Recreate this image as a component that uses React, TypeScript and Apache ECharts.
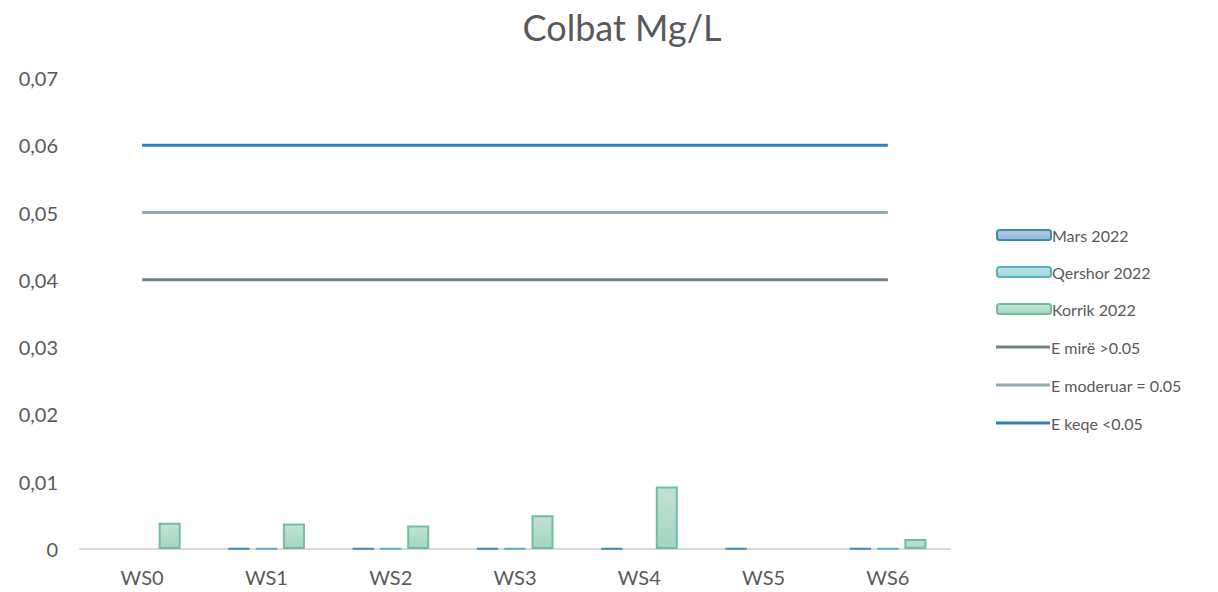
import React, { useEffect, useRef } from "react";
import * as echarts from "echarts";

const categories = ["WS0", "WS1", "WS2", "WS3", "WS4", "WS5", "WS6"];
const mars2022 = [null, 0.0001, 0.0001, 0.0001, 0.0001, 0.0001, 0.0001];
const qershor2022 = [null, 0.0001, 0.0001, 0.0001, null, null, 0.0001];
const korrik2022 = [0.0039, 0.0038, 0.0035, 0.005, 0.0093, null, 0.0015];
const eMire = [0.04, 0.04, 0.04, 0.04, 0.04, 0.04, 0.04];
const eModeruar = [0.05, 0.05, 0.05, 0.05, 0.05, 0.05, 0.05];
const eKeqe = [0.06, 0.06, 0.06, 0.06, 0.06, 0.06, 0.06];

const FONT = "Lato, 'Open Sans', sans-serif";
const TXT = "#595959";

function grad(top: string, bottom: string) {
  return new echarts.graphic.LinearGradient(0, 0, 0, 1, [
    { offset: 0, color: top },
    { offset: 1, color: bottom },
  ]);
}

export default function App() {
  const ref = useRef<HTMLDivElement>(null);
  useEffect(() => {
    if (!ref.current) return;
    const chart = echarts.init(ref.current, undefined, { renderer: "svg" });
    const barCommon = { type: "bar", barWidth: 22, barGap: "25%" };
    const legendText = { fontFamily: FONT, fontSize: 16, color: TXT, padding: [0, 0, 0, -4] };
    chart.setOption({
      animation: false,
      textStyle: { fontFamily: FONT },
      title: {
        text: "Colbat Mg/L",
        left: 617,
        textAlign: "center",
        top: 4,
        textStyle: { fontFamily: FONT, fontSize: 36, fontWeight: "normal", color: TXT },
      },
      legend: [
        {
          orient: "vertical",
          left: 991,
          top: 222,
          itemWidth: 54,
          itemHeight: 10,
          itemGap: 21,
          textStyle: legendText,
          data: ["Mars 2022", "Qershor 2022", "Korrik 2022"],
        },
        {
          orient: "vertical",
          left: 991,
          top: 334,
          itemWidth: 54,
          itemHeight: 3,
          itemGap: 22,
          icon: "rect",
          textStyle: legendText,
          data: ["E mirë >0.05", "E moderuar = 0.05", "E keqe <0.05"],
        },
      ],
      grid: { left: 80, right: 268, top: 78, bottom: 43, containLabel: false },
      xAxis: {
        type: "category",
        data: categories,
        axisLine: { lineStyle: { color: "#d9d9d9", width: 2 } },
        axisTick: { show: false },
        axisLabel: { fontFamily: FONT, fontSize: 20, color: TXT, margin: 18 },
      },
      yAxis: {
        type: "value",
        min: 0,
        max: 0.07,
        interval: 0.01,
        splitLine: { show: false },
        axisLine: { show: false },
        axisTick: { show: false },
        axisLabel: {
          fontFamily: FONT,
          fontSize: 20,
          color: TXT,
          margin: 22,
          formatter: (v: number) => (v === 0 ? "0" : v.toFixed(2).replace(".", ",")),
        },
      },
      series: [
        {
          ...barCommon,
          name: "Mars 2022",
          data: mars2022,
          itemStyle: { color: grad("#b3cde0", "#93b8d4"), borderColor: "#3b8ab5", borderWidth: 2 },
        },
        {
          ...barCommon,
          name: "Qershor 2022",
          data: qershor2022,
          itemStyle: { color: grad("#bfe3e8", "#9fd3dc"), borderColor: "#55b3c4", borderWidth: 2 },
        },
        {
          ...barCommon,
          name: "Korrik 2022",
          data: korrik2022,
          itemStyle: { color: grad("#c2e3d5", "#a3d5c0"), borderColor: "#72bd9f", borderWidth: 2 },
        },
        {
          type: "line",
          name: "E mirë >0.05",
          data: eMire,
          symbol: "none",
          lineStyle: { color: "#6e8387", width: 3 },
          itemStyle: { color: "#6e8387" },
        },
        {
          type: "line",
          name: "E moderuar = 0.05",
          data: eModeruar,
          symbol: "none",
          lineStyle: { color: "#8eabb5", width: 3 },
          itemStyle: { color: "#8eabb5" },
        },
        {
          type: "line",
          name: "E keqe <0.05",
          data: eKeqe,
          symbol: "none",
          lineStyle: { color: "#2d7fc1", width: 3 },
          itemStyle: { color: "#2d7fc1" },
        },
      ],
    });
    return () => chart.dispose();
  }, []);
  return (
    <div
      ref={ref}
      style={{ position: "absolute", left: 0, top: 0, width: 1218, height: 592 }}
    />
  );
}
